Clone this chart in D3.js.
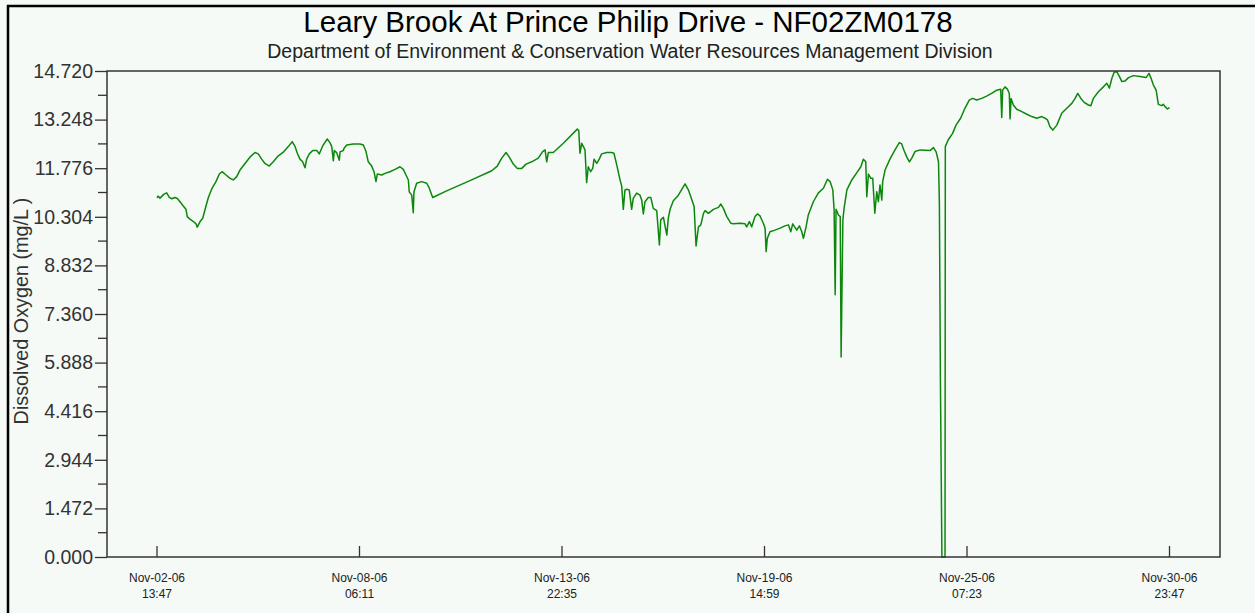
<!DOCTYPE html>
<html><head><meta charset="utf-8">
<script src="https://cdn.jsdelivr.net/npm/d3@7"></script>
<style>
html,body{margin:0;padding:0;background:#f5faf6;}
svg{display:block;font-family:"Liberation Sans",Arial,sans-serif;}
</style></head><body>
<svg id="chart" width="1255" height="613"></svg>
<script>
const titleText = "Leary Brook At Prince Philip Drive - NF02ZM0178";
const subtitleText = "Department of Environment & Conservation Water Resources Management Division";
const yAxisLabel = "Dissolved Oxygen (mg/L )";
const startTime = "2006-11-02 13:47";
const endTime = "2006-11-30 23:47";

const hoursSinceStart = [
0,0.7,2.0,4.7,6.5,8.3,9.9,12.1,13.7,15.5,
17.7,19.5,20.4,22.2,24.5,26.3,27.1,29.0,30.8,33.0,
34.6,36.8,39.7,42.0,43.8,46.5,49.2,51.4,53.7,55.9,
59.3,62.6,66.0,68.2,70.5,72.7,75.6,78.3,81.7,85.1,
88.4,91.1,93.0,94.5,96.3,98.1,99.7,100.8,102.6,104.9,
107.6,109.3,111.6,114.7,116.5,117.7,118.8,119.4,121.0,122.8,
123.3,125.5,126.0,127.8,132.2,136.7,139.0,140.8,142.3,144.6,
146.2,147.5,148.4,151.4,153.6,156.9,160.3,163.7,165.9,167.7,
169.3,169.9,171.6,172.6,173.1,174.9,178.3,181.7,183.4,185.7,
195.1,210.8,225.5,229.2,232.2,235.1,237.3,240.0,242.7,245.7,
248.6,252.4,256.8,259.8,261.4,262.5,263.6,266.9,273.7,283.1,
284.1,284.9,286.1,287.2,288.3,289.4,290.5,292.1,293.5,294.4,
296.2,297.9,299.5,302.9,306.3,307.8,309.7,311.9,313.0,314.1,
315.2,316.4,318.1,319.7,320.8,323.1,325.3,326.5,327.6,328.7,
330.9,332.6,334.3,336.6,338.4,339.3,341.1,343.4,344.4,345.6,
347.8,351.2,355.7,357.9,360.2,361.8,363.1,364.7,366.3,368.1,
369.2,371.4,374.8,378.2,379.8,381.5,383.8,386.5,388.2,392.7,
396.1,397.2,399.0,400.6,402.8,404.4,406.2,408.4,409.6,410.3,
411.1,412.9,416.3,419.7,423.0,425.3,426.9,428.2,430.9,432.7,
434.3,435.4,437.2,438.7,442.1,445.5,448.9,451.6,453.4,455.2,
456.1,456.8,457.4,459.0,460.2,460.8,462.0,462.8,464.7,468.0,
471.4,474.1,475.8,477.4,478.1,479.2,480.8,482.1,483.5,484.8,
485.9,487.0,488.2,488.8,490.4,493.7,497.1,500.0,501.6,503.2,
505.0,506.8,508.4,510.6,514.0,520.7,523.0,524.8,526.4,527.0,
527.7,528.7,530.8,531.0,532.9,535.9,538.2,541.3,544.2,547.1,
549.4,552.1,555.5,558.8,562.2,565.6,568.3,569.0,569.6,571.2,
572.8,574.1,574.6,575.3,576.8,579.1,582.5,585.9,589.2,592.6,
596.0,598.2,599.8,601.5,603.4,606.1,609.4,612.8,616.2,618.4,
620.2,622.3,624.5,627.4,629.0,630.7,634.1,637.5,639.8,641.5,
643.2,644.7,646.5,648.3,649.9,652.1,654.4,657.7,662.2,666.2,
668.2,669.4,671.1,673.0,674.5,676.8,677.9,679.0,680.6,682.0
];

const dissolvedOxygen = [
10.88,10.93,10.87,10.99,11.03,10.89,10.85,10.89,10.86,10.76,
10.63,10.53,10.31,10.23,10.16,10.09,9.99,10.16,10.26,10.63,
10.89,11.14,11.37,11.60,11.67,11.57,11.47,11.42,11.52,11.72,
11.92,12.11,12.25,12.21,12.05,11.92,11.84,11.97,12.15,12.26,
12.43,12.58,12.43,12.23,12.05,11.97,11.79,12.05,12.21,12.31,
12.31,12.21,12.45,12.66,12.55,12.43,12.00,12.31,12.25,12.02,
12.27,12.31,12.38,12.48,12.51,12.51,12.48,12.28,11.97,11.84,
11.67,11.37,11.60,11.57,11.62,11.67,11.74,11.82,11.74,11.57,
11.42,11.06,10.96,10.43,11.06,11.32,11.37,11.32,11.17,10.89,
11.09,11.40,11.70,11.84,12.08,12.25,12.11,11.90,11.77,11.77,
11.90,11.97,12.08,12.28,12.33,11.97,12.25,12.25,12.53,12.96,
12.91,12.23,12.53,12.43,12.33,11.34,11.82,11.67,11.77,12.05,
11.92,12.05,12.21,12.25,12.25,12.23,11.87,11.42,11.24,10.53,
11.12,11.14,11.12,10.53,10.86,11.02,10.96,10.81,10.39,10.76,
10.89,10.89,10.56,10.49,9.45,10.21,10.29,9.75,10.26,10.53,
10.79,10.96,11.30,11.12,10.83,10.61,9.42,10.00,10.06,10.41,
10.49,10.41,10.53,10.59,10.69,10.56,10.31,10.11,10.09,10.11,
10.09,10.00,10.16,10.00,10.31,10.39,10.33,10.11,9.96,9.25,
9.65,9.85,9.90,9.96,10.03,10.06,9.85,10.09,9.90,10.03,
9.85,9.65,10.00,10.36,10.76,11.03,11.17,11.44,11.37,11.12,
10.51,7.94,10.53,10.36,10.31,6.06,10.21,10.56,11.12,11.42,
11.64,11.82,12.05,11.97,10.91,11.60,11.47,11.47,10.41,11.06,
10.76,11.27,10.81,11.37,11.72,12.05,12.33,12.55,12.51,12.31,
12.12,11.97,12.08,12.28,12.33,12.31,12.40,12.27,11.97,10.72,
5.30,0,0,12.43,12.63,12.83,13.08,13.29,13.59,13.84,
13.89,13.84,13.89,13.96,14.04,14.14,14.17,13.31,14.14,14.24,
14.17,14.04,13.27,13.89,13.69,13.56,13.49,13.41,13.34,13.29,
13.34,13.29,13.24,13.03,12.93,13.08,13.44,13.59,13.74,13.89,
14.04,13.89,13.77,13.69,13.67,13.89,14.09,14.24,14.35,14.20,
14.50,14.68,14.70,14.55,14.40,14.42,14.52,14.58,14.55,14.52,
14.65,14.52,14.30,14.14,13.71,13.67,13.71,13.64,13.57,13.61
];

const yTickValues = [0, 1.472, 2.944, 4.416, 5.888, 7.36, 8.832, 10.304, 11.776, 13.248, 14.72];
const xTickTimes = ["2006-11-02 13:47","2006-11-08 06:11","2006-11-13 22:35","2006-11-19 14:59","2006-11-25 07:23","2006-11-30 23:47"];
const xTickDateLabels = ["Nov-02-06","Nov-08-06","Nov-13-06","Nov-19-06","Nov-25-06","Nov-30-06"];
const xTickTimeLabels = ["13:47","06:11","22:35","14:59","07:23","23:47"];

const parse = d3.timeParse("%Y-%m-%d %H:%M");
const t0 = parse(startTime), t1 = parse(endTime);
const data = hoursSinceStart.map((h, i) => ({t: new Date(t0.getTime() + h * 3600000), v: dissolvedOxygen[i]}));

const svg = d3.select("#chart");
const W = 1255, H = 613;
const frame = {left: 107, right: 1220, top: 71, bottom: 557};

svg.append("rect").attr("width", W).attr("height", H).attr("fill", "#f5faf6");
// outer border (top & left)
svg.append("line").attr("x1", 8).attr("x2", 8).attr("y1", 5).attr("y2", H).attr("stroke", "#000").attr("stroke-width", 2.5);
svg.append("line").attr("x1", 7).attr("x2", W).attr("y1", 6).attr("y2", 6).attr("stroke", "#000").attr("stroke-width", 2.5);

const x = d3.scaleTime().domain([t0, t1]).range([157, 1169.5]);
const y = d3.scaleLinear().domain([0, 14.72]).range([frame.bottom, frame.top]);

// titles
svg.append("text").attr("x", 628).attr("y", 31.5).attr("text-anchor", "middle")
  .attr("font-size", 29.5).attr("fill", "#000").text(titleText);
svg.append("text").attr("x", 630).attr("y", 58).attr("text-anchor", "middle")
  .attr("font-size", 19.5).attr("fill", "#222").text(subtitleText);

// y axis label
svg.append("text").attr("transform", "translate(27.5,311) rotate(-90)").attr("text-anchor", "middle")
  .attr("font-size", 19.8).attr("fill", "#333").text(yAxisLabel);

// data line
const line = d3.line().x(d => x(d.t)).y(d => y(d.v));
svg.append("path").datum(data).attr("d", line).attr("fill", "none")
  .attr("stroke", "#0c870c").attr("stroke-width", 1.5).attr("stroke-linejoin", "round");

// frame
svg.append("rect").attr("x", frame.left).attr("y", frame.top)
  .attr("width", frame.right - frame.left).attr("height", frame.bottom - frame.top)
  .attr("fill", "none").attr("stroke", "#333").attr("stroke-width", 1.5);

// y axis
const yAxis = d3.axisLeft(y).tickValues(yTickValues).tickSize(12).tickPadding(2).tickFormat(d3.format(".3f"));
const gy = svg.append("g").attr("transform", `translate(${frame.left},0)`).call(yAxis);
gy.select(".domain").remove();
gy.selectAll(".tick line").attr("stroke", "#333").attr("stroke-width", 1.3);
gy.selectAll(".tick text").attr("font-size", 19.5).attr("fill", "#333").attr("font-family", "Liberation Sans, Arial, sans-serif");
// minor ticks
const minor = d3.pairs(yTickValues).map(p => (p[0] + p[1]) / 2);
svg.append("g").selectAll("line").data(minor).join("line")
  .attr("x1", frame.left - 9).attr("x2", frame.left)
  .attr("y1", d => y(d)).attr("y2", d => y(d))
  .attr("stroke", "#333").attr("stroke-width", 1.3);

// x axis
const xTicks = xTickTimes.map(parse);
const gx = svg.append("g");
gx.selectAll("line").data(xTicks).join("line")
  .attr("x1", d => x(d)).attr("x2", d => x(d))
  .attr("y1", frame.bottom).attr("y2", frame.bottom - 11)
  .attr("stroke", "#333").attr("stroke-width", 1.3);
gx.selectAll("text.d").data(xTicks).join("text").attr("class", "d")
  .attr("x", d => x(d)).attr("y", 582).attr("text-anchor", "middle")
  .attr("font-size", 12).attr("fill", "#222").text((d, i) => xTickDateLabels[i]);
gx.selectAll("text.t").data(xTicks).join("text").attr("class", "t")
  .attr("x", d => x(d)).attr("y", 597.5).attr("text-anchor", "middle")
  .attr("font-size", 12).attr("fill", "#222").text((d, i) => xTickTimeLabels[i]);
</script>
</body></html>
